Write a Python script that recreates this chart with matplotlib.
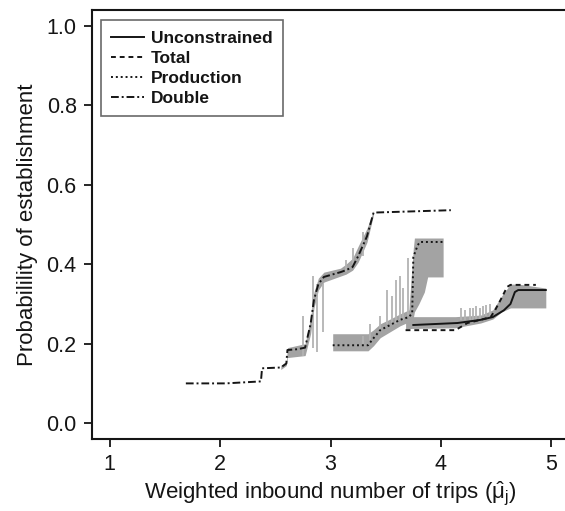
import matplotlib
matplotlib.use("Agg")
import matplotlib.pyplot as plt

plt.rcParams['font.family'] = ['Liberation Sans', 'DejaVu Sans']
plt.rcParams['mathtext.fontset'] = 'custom'
plt.rcParams['mathtext.rm'] = 'Liberation Sans'
plt.rcParams['mathtext.it'] = 'Liberation Sans:italic'

# --- data ---
# "Double" curve (left)
dbl_x = [1.69, 2.05, 2.37, 2.38, 2.55, 2.60, 2.61, 2.70, 2.77, 2.82, 2.85, 2.89, 2.94,
         3.09, 3.14, 3.20, 3.25, 3.33, 3.39, 4.09]
dbl_y = [0.100, 0.100, 0.105, 0.138, 0.140, 0.150, 0.184, 0.186, 0.190, 0.250, 0.310,
         0.350, 0.368, 0.380, 0.385, 0.393, 0.420, 0.470, 0.530, 0.536]
band_a_x = [2.55, 2.60, 2.61, 2.77, 2.82, 2.85, 2.89, 2.94, 3.09, 3.14, 3.20, 3.25, 3.33, 3.39]
band_a_lo = [0.135, 0.145, 0.165, 0.170, 0.225, 0.290, 0.335, 0.355, 0.370, 0.375, 0.385,
             0.405, 0.455, 0.525]
band_a_hi = [0.145, 0.155, 0.190, 0.200, 0.265, 0.330, 0.365, 0.380, 0.390, 0.400, 0.415,
             0.445, 0.490, 0.535]
spike_a_x = [2.75, 2.84, 2.88, 2.93, 3.14, 3.20, 3.29]
spike_a_lo = [0.17, 0.19, 0.18, 0.23, 0.38, 0.39, 0.42]
spike_a_hi = [0.27, 0.37, 0.35, 0.35, 0.41, 0.44, 0.48]

# "Production" curve (middle)
prod_x = [3.02, 3.34, 3.39, 3.45, 3.54, 3.63, 3.71, 3.74, 3.75, 3.79, 3.81, 4.02]
prod_y = [0.196, 0.196, 0.214, 0.234, 0.247, 0.260, 0.267, 0.277, 0.418, 0.448, 0.456, 0.456]
band_b_x = [3.02, 3.34, 3.39, 3.45, 3.54, 3.63, 3.71, 3.75, 3.76, 3.80, 3.85, 3.88, 4.02]
band_b_lo = [0.182, 0.182, 0.195, 0.215, 0.230, 0.245, 0.255, 0.265, 0.280, 0.300, 0.330,
             0.368, 0.368]
band_b_hi = [0.225, 0.225, 0.235, 0.250, 0.262, 0.275, 0.285, 0.440, 0.466, 0.466, 0.466,
             0.466, 0.466]
spike_b_x = [3.29, 3.36, 3.45, 3.51, 3.56, 3.59, 3.63, 3.66, 3.70]
spike_b_lo = [0.20, 0.21, 0.23, 0.25, 0.25, 0.25, 0.26, 0.26, 0.27]
spike_b_hi = [0.22, 0.25, 0.27, 0.335, 0.32, 0.36, 0.37, 0.34, 0.415]

# "Unconstrained" and "Total" curves (lower right)
unc_x = [3.75, 4.15, 4.36, 4.47, 4.57, 4.63, 4.67, 4.70, 4.95]
unc_y = [0.247, 0.252, 0.260, 0.267, 0.284, 0.300, 0.330, 0.335, 0.335]
tot_x = [3.68, 4.13, 4.18, 4.24, 4.36, 4.45, 4.49, 4.54, 4.60, 4.63, 4.86]
tot_y = [0.234, 0.234, 0.242, 0.252, 0.260, 0.267, 0.284, 0.310, 0.343, 0.348, 0.348]
band_c_x = [3.68, 4.13, 4.36, 4.47, 4.55, 4.63, 4.70, 4.95]
band_c_lo = [0.238, 0.240, 0.252, 0.262, 0.280, 0.290, 0.290, 0.290]
band_c_hi = [0.268, 0.268, 0.272, 0.285, 0.320, 0.350, 0.350, 0.340]
spike_c_x = [4.18, 4.22, 4.26, 4.29, 4.32, 4.35, 4.38, 4.41, 4.44]
spike_c_lo = [0.26, 0.26, 0.26, 0.26, 0.26, 0.26, 0.27, 0.27, 0.27]
spike_c_hi = [0.29, 0.285, 0.29, 0.29, 0.295, 0.29, 0.295, 0.297, 0.30]

x_ticks = [1, 2, 3, 4, 5]
y_ticks = [0.0, 0.2, 0.4, 0.6, 0.8, 1.0]

fill_gray = '#a3a3a3'
spike_gray = '#b3b3b3'
ink = '#151515'

fig = plt.figure(figsize=(5.65, 5.11), dpi=100)
ax = fig.add_axes([92 / 565, 72 / 511, 477 / 565, 429 / 511])

for bx, lo, hi in [(band_a_x, band_a_lo, band_a_hi),
                   (band_b_x, band_b_lo, band_b_hi),
                   (band_c_x, band_c_lo, band_c_hi)]:
    ax.fill_between(bx, lo, hi, color=fill_gray, lw=0)
for sx, lo, hi in [(spike_a_x, spike_a_lo, spike_a_hi),
                   (spike_b_x, spike_b_lo, spike_b_hi),
                   (spike_c_x, spike_c_lo, spike_c_hi)]:
    ax.vlines(sx, lo, hi, color=spike_gray, lw=1.3)

ax.plot(unc_x, unc_y, color=ink, lw=1.4, ls='-', label='Unconstrained')
ax.plot(tot_x, tot_y, color=ink, lw=1.4, ls=(0, (2.5, 2)), label='Total')
ax.plot(prod_x, prod_y, color=ink, lw=1.4, ls=(0, (1, 1.5)), label='Production')
ax.plot(dbl_x, dbl_y, color=ink, lw=1.4, ls=(0, (4, 1.5, 1, 1.5)), label='Double')

ax.set_xlim(0.84, 5.16)
ax.set_ylim(-0.04, 1.04)
ax.set_xticks(x_ticks)
ax.set_yticks(y_ticks)
ax.set_yticklabels([f'{v:.1f}' for v in y_ticks])
ax.tick_params(direction='out', length=6, width=1.3, labelsize=15.5, colors=ink,
               pad=5)
for s in ax.spines.values():
    s.set_linewidth(1.5)
    s.set_color(ink)

ax.set_xlabel(r'Weighted inbound number of trips ($\mathrm{\hat{\mu}}_\mathrm{j}$)',
              fontsize=16, color=ink, labelpad=3)
ax.set_ylabel('Probabilility of establishment', fontsize=16, color=ink, labelpad=6)

leg = ax.legend(loc='upper left', bbox_to_anchor=(0.019, 0.976), frameon=True,
                fancybox=False, edgecolor='#444444', handlelength=1.85,
                prop={'weight': 'bold', 'size': 12.5}, borderpad=0.6,
                labelspacing=0.28, handletextpad=0.4, borderaxespad=0)
leg.get_frame().set_linewidth(1.2)
for t in leg.get_texts():
    t.set_color(ink)

fig.savefig('out.png', dpi=100)
